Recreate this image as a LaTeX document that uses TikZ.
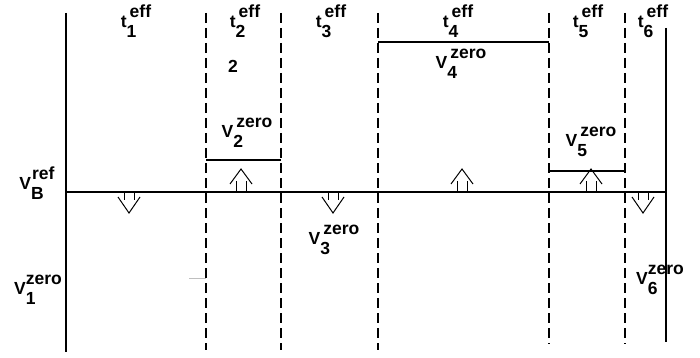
\documentclass[tikz,border=0pt]{standalone}
\usepackage{fontspec}
\setmainfont{Liberation Sans}
\usepackage{tikz}
\usetikzlibrary{positioning}
\newcommand{\scr}[3]{#1\begin{tabular}[c]{@{}l@{}}\hspace{3pt}#2\\[-1pt]#3\end{tabular}}
\newcommand{\uparw}[1]{%
  \draw[hollow] (#1-5,192) -- (#1-5,181);
  \draw[hollow] (#1+5,192) -- (#1+5,181);
  \draw[hollow] (#1-11,184) -- (#1,169) -- (#1+11,184);}
\newcommand{\dnarw}[1]{%
  \draw[hollow] (#1-5,192) -- (#1-5,200);
  \draw[hollow] (#1+5,192) -- (#1+5,200);
  \draw[hollow] (#1-11,197) -- (#1,213) -- (#1+11,197);}

\begin{document}
\begin{tikzpicture}[x=1pt, y=-1pt,
    font=\fontsize{17.5}{21}\selectfont\bfseries,
    axis/.style={line width=2.4pt},
    bound/.style={dash pattern=on 10pt off 5pt, line width=1.3pt},
    level/.style={line width=1.2pt},
    hollow/.style={line width=1pt},
    lab/.style={inner sep=0pt, align=left}]
    \useasboundingbox (0,0) rectangle (700,358);

    % Time axis and end walls
    \draw[axis] (66,13) -- (66,352);
    \draw[axis] (666,28) -- (666,342);
    \draw[axis] (66,192) -- (666,192);

    % Interval bounds
    \draw[bound] (206,13) -- (206,350);
    \draw[bound] (281,13) -- (281,350);
    \draw[bound] (378,13) -- (378,350);
    \draw[bound] (549,13) -- (549,344);
    \draw[bound] (625,13) -- (625,344);
    \draw[gray!50, line width=0.5pt] (189,278) -- (206,278);

    % Zero levels
    \draw[level] (206,160) -- (281,160);
    \draw[level] (378,42) -- (549,42);
    \draw[level] (549,171) -- (625,171);

    % Arrows
    \dnarw{129}
    \uparw{241}
    \dnarw{333}
    \uparw{462}
    \uparw{591}
    \dnarw{643}

    % Labels
    \node[lab] (t1) at (136,23) {\scr{t}{eff}{1}};
    \node[lab] (t2) at (245,23) {\scr{t}{eff}{2}};
    \node[lab] (t3) at (331,23) {\scr{t}{eff}{3}};
    \node[lab] (t4) at (458,23) {\scr{t}{eff}{4}};
    \node[lab] (t5) at (588,23) {\scr{t}{eff}{5}};
    \node[lab] (t6) at (653,23) {\scr{t}{eff}{6}};
    \node[lab] (two) at (233,66) {2};
    \node[lab] (v2) at (247,133) {\scr{V}{zero}{2}};
    \node[lab] (v4) at (461,64) {\scr{V}{zero}{4}};
    \node[lab] (v5) at (591,142) {\scr{V}{zero}{5}};
    \node[lab] (v3) at (334,240) {\scr{V}{zero}{3}};
    \node[lab] (vB) at (37,185) {V\begin{tabular}[c]{@{}l@{}}\hspace{1pt}ref\\[-1pt]B\end{tabular}};
    \node[lab] (v1) at (38,290) {V\begin{tabular}[c]{@{}l@{}}zero\\[-1pt]1\end{tabular}};
    \node[lab] (v6) at (660,280) {V\begin{tabular}[c]{@{}l@{}}zero\\[-1pt]6\end{tabular}};
\end{tikzpicture}
\end{document}
